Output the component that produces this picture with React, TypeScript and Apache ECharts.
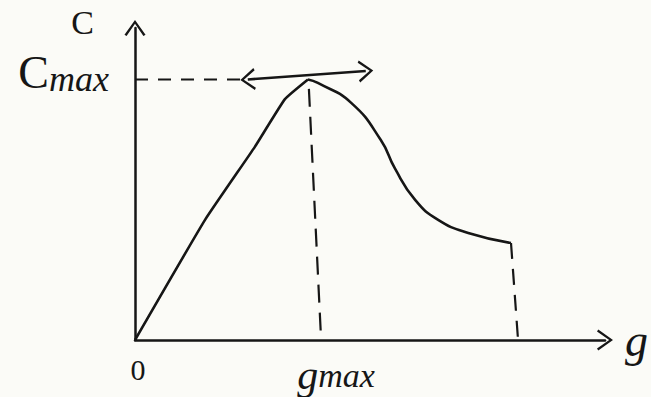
import { useEffect, useRef } from "react";
import * as echarts from "echarts";

// Rising branch of the curve c(g), from the origin up to the maximum
const RISE_G = [0, 1.49, 2.55, 3.19, 3.68];
const RISE_C = [0, 3.85, 6.19, 7.72, 8.35];

// Falling branch after the maximum, flattening out at the right end
const FALL_G = [3.68, 3.89, 4.6, 5.23, 5.53, 5.96, 6.45, 7.09, 8.0];
const FALL_C = [8.35, 8.24, 7.6, 6.41, 5.5, 4.49, 3.85, 3.43, 3.11];

// Position of the maximum
const G_MAX = 3.68;
const C_MAX = 8.35;

// Dashed guide from the c-axis to the maximum
const GUIDE_C_G = [0, 2.4];
const GUIDE_C_C = [C_MAX, C_MAX];

// Dashed drop from the maximum to the g-axis
const DROP_MAX_G = [3.7, 3.96];
const DROP_MAX_C = [8.05, 0];

// Dashed drop from the end of the curve to the g-axis
const DROP_END_G = [8.0, 8.15];
const DROP_END_C = [3.11, 0];

// Horizontal tangent at the maximum (double arrow)
const TANGENT_G = [2.4, 4.91];
const TANGENT_C = [C_MAX, 8.62];

// Axis ranges and label positions
const G_RANGE = [0, 10];
const C_RANGE = [0, 10];
const G_LABELS = [0, G_MAX];
const C_LABELS = [C_MAX];

const INK = "#161616";
const FONT = "'Liberation Serif', 'DejaVu Serif', serif";
const CARET = "path://M0,14 L10,0 L20,14 L18,15.2 L10,3.6 L2,15.2 Z";

const pairs = (xs: number[], ys: number[]) => xs.map((x, i) => [x, ys[i]]);

export default function App() {
  const ref = useRef<HTMLDivElement>(null);

  useEffect(() => {
    document.body.style.margin = "0";
    if (!ref.current) return;
    const chart = echarts.init(ref.current, undefined, { renderer: "svg" });

    const dashed = (name: string, xs: number[], ys: number[], dash: number[]) => ({
      name,
      type: "line",
      data: pairs(xs, ys),
      symbol: "none",
      silent: true,
      lineStyle: { color: INK, width: 2.2, type: dash },
      z: 2,
    });

    chart.setOption({
      animation: false,
      backgroundColor: "#fbfbf7",
      grid: { left: 135, right: 44, top: 28, bottom: 57 },
      xAxis: {
        type: "value",
        min: G_RANGE[0],
        max: G_RANGE[1],
        splitLine: { show: false },
        axisTick: { show: false },
        axisLine: {
          show: true,
          symbol: ["none", CARET],
          symbolSize: [22, 16],
          lineStyle: { color: INK, width: 2.5 },
        },
        axisLabel: {
          customValues: G_LABELS,
          margin: 14,
          color: INK,
          fontFamily: FONT,
          fontStyle: "italic",
          formatter: (v: number) => (v === 0 ? "{z|0}" : "{g|g}{m|max}"),
          rich: {
            z: { fontSize: 30, fontStyle: "normal", fontFamily: FONT, color: INK, padding: [0, 0, 0, 6] },
            g: { fontSize: 42, fontStyle: "italic", fontFamily: FONT, color: INK, padding: [0, 0, 0, 56] },
            m: { fontSize: 34, fontStyle: "italic", fontFamily: FONT, color: INK },
          },
        },
        name: "g",
        nameLocation: "end",
        nameGap: 20,
        nameTextStyle: {
          color: INK,
          fontFamily: FONT,
          fontStyle: "italic",
          fontSize: 46,
          verticalAlign: "middle",
          padding: [34, 0, 0, 0],
        },
      },
      yAxis: {
        type: "value",
        min: C_RANGE[0],
        max: C_RANGE[1],
        splitLine: { show: false },
        axisTick: { show: false },
        axisLine: {
          show: true,
          symbol: ["none", CARET],
          symbolSize: [24, 16],
          lineStyle: { color: INK, width: 2.5 },
        },
        axisLabel: {
          customValues: C_LABELS,
          margin: 26,
          color: INK,
          formatter: () => "{c|C}{m|max}",
          rich: {
            c: { fontSize: 46, fontFamily: FONT, color: INK, padding: [0, 0, 14, 0] },
            m: { fontSize: 36, fontStyle: "italic", fontFamily: FONT, color: INK },
          },
        },
        name: "C",
        nameLocation: "end",
        nameGap: 6,
        nameTextStyle: {
          color: INK,
          fontFamily: FONT,
          fontSize: 34,
          align: "right",
          verticalAlign: "middle",
          padding: [0, 41, 0, 0],
        },
      },
      series: [
        {
          name: "rise",
          type: "line",
          data: pairs(RISE_G, RISE_C),
          symbol: "none",
          smooth: 0.12,
          silent: true,
          lineStyle: { color: INK, width: 2.6 },
          z: 3,
          markLine: {
            silent: true,
            symbol: [CARET, CARET],
            symbolSize: [22, 15],
            label: { show: false },
            lineStyle: { color: INK, width: 2.6, type: "solid" },
            data: [
              [
                { coord: [TANGENT_G[0], TANGENT_C[0]] },
                { coord: [TANGENT_G[1], TANGENT_C[1]] },
              ],
            ],
          },
        },
        {
          name: "fall",
          type: "line",
          data: pairs(FALL_G, FALL_C),
          symbol: "none",
          smooth: 0.5,
          silent: true,
          lineStyle: { color: INK, width: 2.6 },
          z: 3,
        },
        dashed("cmax", GUIDE_C_G, GUIDE_C_C, [13, 10]),
        dashed("gmax", DROP_MAX_G, DROP_MAX_C, [18, 10]),
        dashed("end", DROP_END_G, DROP_END_C, [16, 10]),
      ],
    });

    return () => chart.dispose();
  }, []);

  return <div ref={ref} style={{ width: 651, height: 397 }} />;
}
